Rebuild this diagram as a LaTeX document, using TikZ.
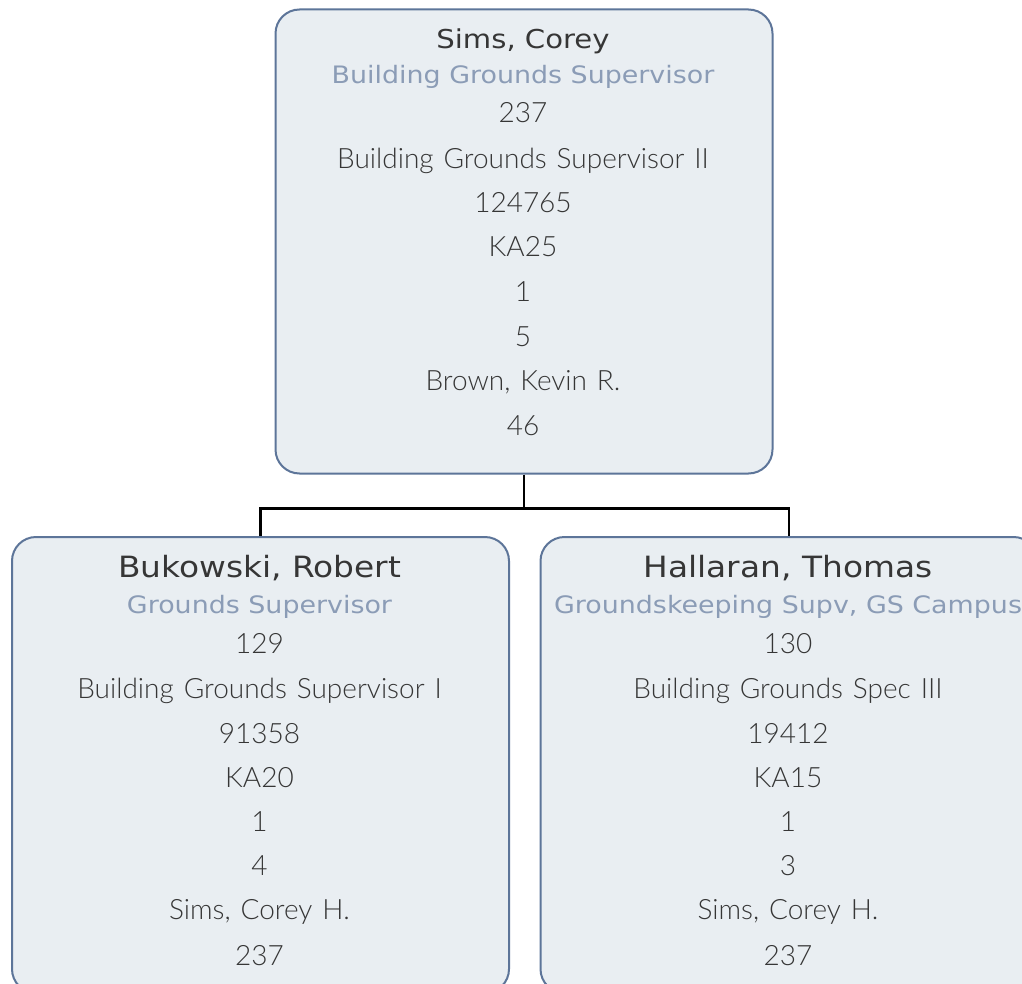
\documentclass[tikz,border=0pt]{standalone}
\usepackage{fontspec}
\newfontfamily\namefont[FakeStretch=1.12]{DejaVu Sans}
\newfontfamily\numfont[WordSpace=1.3]{Lato Light}
\definecolor{boxfill}{HTML}{E9EEF2}
\definecolor{boxline}{HTML}{5D7599}
\definecolor{txt}{HTML}{363636}
\definecolor{ttl}{HTML}{8B9CB6}
\tikzset{
  card/.style={draw=boxline, fill=boxfill, line width=2pt, rounded corners=24pt,
    minimum width=497pt, anchor=north west, inner sep=0pt},
  pname/.style={anchor=base, inner sep=0pt, text=txt, font=\namefont\fontsize{26}{26}\selectfont},
  pnamebig/.style={pname, font=\namefont\fontsize{29.3}{29.3}\selectfont},
  ptitle/.style={anchor=base, inner sep=0pt, text=ttl, font=\namefont\fontsize{24}{24}\selectfont},
  pline/.style={anchor=base, inner sep=0pt, text=txt, font=\numfont\fontsize{28}{28}\selectfont},
  conn/.style={draw=black, line width=2.2pt}
}
\begin{document}
\begin{tikzpicture}[x=1pt,y=-1pt]
\useasboundingbox (0,0) rectangle (1022,984);
\fill[white] (0,0) rectangle (1022,984);
% boxes
\node[card, minimum height=464pt] (top) at (274.5,8.5) {};
\node[card, minimum height=456pt] (left) at (11,536) {};
\node[card, minimum height=456pt] (right) at (539.5,536) {};
% connectors
\draw[conn] (top.south) -- ++(0,34) coordinate (j) -| (left.north);
\draw[conn] (j) -| (right.north);
% top box text
\node[pname] (t0) at (523,48.3) {Sims, Corey};
\node[ptitle] (t1) at (523,83.3) {Building Grounds Supervisor};
\node[pline] (t2) at (523,123) {237};
\node[pline] (t3) at (523,169) {Building Grounds Supervisor II};
\node[pline] (t4) at (523,213) {124765};
\node[pline] (t5) at (523,257) {KA25};
\node[pline] (t6) at (523,301.5) {1};
\node[pline] (t7) at (523,346) {5};
\node[pline] (t8) at (523,390) {Brown, Kevin R.};
\node[pline] (t9) at (523,435) {46};
% left box text
\node[pnamebig] (l0) at (259.5,577.7) {Bukowski, Robert};
\node[ptitle] (l1) at (259.5,613.3) {Grounds Supervisor};
\node[pline] (l2) at (259.5,653.3) {129};
\node[pline] (l3) at (259.5,698) {Building Grounds Supervisor I};
\node[pline] (l4) at (259.5,743) {91358};
\node[pline] (l5) at (259.5,787) {KA20};
\node[pline] (l6) at (259.5,831.5) {1};
\node[pline] (l7) at (259.5,875.7) {4};
\node[pline] (l8) at (259.5,919.5) {Sims, Corey H.};
\node[pline] (l9) at (259.5,965.7) {237};
% right box text
\node[pnamebig] (r0) at (788,577.7) {Hallaran, Thomas};
\node[ptitle] (r1) at (788,613.3) {Groundskeeping Supv, GS Campus};
\node[pline] (r2) at (788,653.3) {130};
\node[pline] (r3) at (788,698) {Building Grounds Spec III};
\node[pline] (r4) at (788,743) {19412};
\node[pline] (r5) at (788,787) {KA15};
\node[pline] (r6) at (788,831.5) {1};
\node[pline] (r7) at (788,875.7) {3};
\node[pline] (r8) at (788,919.5) {Sims, Corey H.};
\node[pline] (r9) at (788,965.7) {237};
\end{tikzpicture}
\end{document}
